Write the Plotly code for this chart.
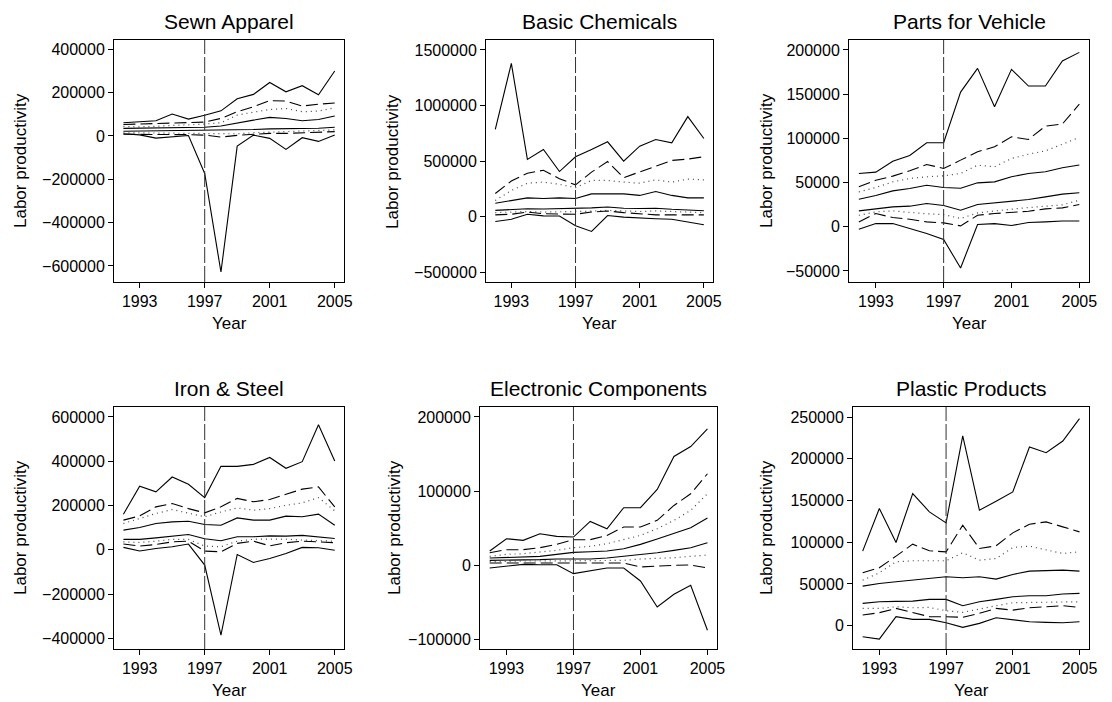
import plotly.graph_objects as go

years = list(range(1992, 2006))

titles = ["Sewn Apparel", "Basic Chemicals", "Parts for Vehicle",
          "Iron & Steel", "Electronic Components", "Plastic Products"]

# Eight series per industry, top to bottom
sewn_apparel = [
    [61000, 64000, 70000, 101000, 78000, 96000, 116000, 172000, 192000, 247000, 204000, 232000, 190000, 300000],
    [53000, 55000, 55000, 58000, 61000, 64000, 81000, 112000, 135000, 163000, 161000, 138000, 147000, 152000],
    [44000, 42000, 45000, 48000, 52000, 55000, 61000, 96000, 110000, 122000, 127000, 112000, 115000, 130000],
    [35000, 36000, 38000, 39000, 39000, 40000, 46000, 58000, 73000, 86000, 81000, 70000, 76000, 92000],
    [22000, 23000, 23000, 24000, 24000, 24000, 25000, 28000, 30000, 33000, 34000, 34000, 36000, 40000],
    [15000, 14000, 13000, 13000, 12000, 10000, 8000, 10000, 15000, 18000, 20000, 22000, 24000, 28000],
    [8000, 8000, 5000, 6000, 6000, 4000, -5000, 3000, 8000, 12000, 12000, 14000, 16000, 20000],
    [10000, 5000, -10000, -4000, 2000, -173000, -628000, -47000, 4000, -11000, -62000, -8000, -25000, 4000],
]

basic_chemicals = [
    [784000, 1380000, 514000, 604000, 405000, 538000, 604000, 673000, 499000, 634000, 694000, 664000, 900000, 703000],
    [207000, 320000, 390000, 417000, 340000, 285000, 400000, 495000, 350000, 400000, 450000, 505000, 517000, 538000],
    [144000, 235000, 300000, 310000, 290000, 260000, 325000, 325000, 310000, 300000, 330000, 310000, 337000, 330000],
    [120000, 144000, 168000, 162000, 168000, 162000, 204000, 204000, 204000, 190000, 225000, 190000, 168000, 168000],
    [55000, 65000, 70000, 68000, 70000, 72000, 78000, 85000, 75000, 72000, 75000, 65000, 58000, 52000],
    [35000, 40000, 45000, 40000, 42000, 45000, 48000, 55000, 48000, 45000, 50000, 45000, 40000, 35000],
    [15000, 20000, 40000, 25000, 22000, 20000, 40000, 50000, 35000, 25000, 15000, 15000, 12000, 15000],
    [-45000, -25000, 20000, 6000, 5000, -84000, -135000, 9000, -6000, -10000, -20000, -25000, -50000, -75000],
]

parts_for_vehicle = [
    [60300, 61800, 74200, 80700, 95000, 95000, 152400, 179200, 135800, 178100, 159200, 159200, 187500, 197300],
    [45200, 52700, 57300, 63300, 70500, 66000, 75400, 84800, 90500, 101800, 98800, 113900, 116200, 138800],
    [39500, 44400, 50800, 54600, 56500, 57600, 60300, 69700, 67800, 77200, 82100, 85900, 93400, 101000],
    [31200, 35300, 40600, 43300, 47000, 44400, 43600, 49700, 50800, 56500, 60300, 62200, 66700, 69900],
    [18000, 20600, 22500, 23300, 26300, 24000, 18700, 25100, 27000, 28900, 30800, 33800, 36900, 38400],
    [13000, 16800, 18000, 16100, 14600, 13800, 9300, 15700, 18000, 19900, 21700, 23600, 24800, 30000],
    [5500, 15000, 10400, 8500, 5500, 4400, 1000, 13000, 15000, 16100, 17600, 20200, 21400, 25100],
    [-2800, 3600, 3600, -2000, -7700, -14500, -46600, 2500, 3600, 1400, 4800, 5500, 6600, 6600],
]

iron_steel = [
    [161000, 287000, 262000, 329000, 296000, 236000, 377000, 377000, 386000, 417000, 368000, 398000, 565000, 401000],
    [134000, 153000, 194000, 209000, 186000, 167000, 194000, 232000, 217000, 227000, 251000, 274000, 284000, 194000],
    [119000, 141000, 164000, 182000, 164000, 149000, 171000, 189000, 179000, 186000, 201000, 212000, 236000, 176000],
    [89000, 101000, 119000, 126000, 129000, 114000, 111000, 144000, 134000, 134000, 152000, 149000, 161000, 111000],
    [47000, 47000, 54000, 62000, 69000, 50000, 41000, 59000, 59000, 63000, 62000, 65000, 59000, 51000],
    [36000, 33000, 39000, 47000, 47000, 17000, 14000, 39000, 48000, 48000, 48000, 44000, 41000, 39000],
    [26000, 17000, 24000, 36000, 39000, -6000, -9000, 29000, 39000, 18000, 32000, 39000, 36000, 32000],
    [11000, -5000, 6000, 14000, 26000, -69000, -385000, -21000, -57000, -39000, -17000, 11000, 9000, -2000],
]

electronic_components = [
    [18900, 35500, 33300, 42300, 38700, 37800, 58900, 49000, 77400, 77400, 102100, 146700, 160100, 184000],
    [16600, 20700, 20700, 23400, 27900, 34200, 34200, 40000, 51300, 51300, 60300, 80500, 96300, 123300],
    [11700, 14400, 15300, 17500, 19800, 23400, 25200, 28800, 34200, 40000, 49000, 60300, 73800, 96300],
    [9400, 9900, 10800, 11700, 14400, 17100, 18000, 18900, 22000, 27900, 35100, 42300, 50400, 63400],
    [6300, 6300, 6700, 7200, 8100, 8100, 8100, 9400, 11700, 14400, 16600, 19800, 23400, 30100],
    [4500, 5400, 5400, 5400, 5400, 5400, 5800, 6300, 6300, 8100, 8500, 9900, 11700, 13500],
    [2700, 2700, 3100, 3100, 3100, 2700, 2200, 2700, 2700, -2700, -1300, -400, 0, -4000],
    [-4000, -1300, 900, 400, 400, -11700, -8100, -4000, -4000, -21600, -56700, -39600, -27400, -88200],
]

plastic_products = [
    [89300, 140400, 99700, 158300, 136400, 123200, 227300, 138400, 149100, 160300, 214100, 207300, 221300, 248000],
    [63400, 69400, 83300, 97700, 89700, 88500, 120400, 92500, 95700, 111200, 121600, 124400, 118400, 112400],
    [54600, 63400, 76600, 77800, 77800, 77800, 87300, 78500, 80500, 93700, 95300, 90500, 86500, 88500],
    [47400, 50600, 52600, 54600, 57000, 58600, 57400, 58600, 55800, 61400, 65400, 65800, 66600, 65400],
    [26700, 28700, 29100, 29500, 31500, 31500, 23900, 28700, 31500, 34700, 35900, 35900, 37900, 38700],
    [20700, 20700, 22700, 21500, 21900, 17900, 16000, 19500, 23900, 27500, 27900, 27500, 28700, 28700],
    [12800, 15600, 20700, 15600, 10800, 10800, 10000, 14800, 20700, 18700, 21500, 22700, 23900, 21900],
    [-13200, -16000, 10800, 7600, 7600, 3600, -2000, 2800, 9600, 6800, 4800, 4000, 3600, 4800],
]

panels = [sewn_apparel, basic_chemicals, parts_for_vehicle,
          iron_steel, electronic_components, plastic_products]

y_ticks = [
    [-600000, -400000, -200000, 0, 200000, 400000],
    [-500000, 0, 500000, 1000000, 1500000],
    [-50000, 0, 50000, 100000, 150000, 200000],
    [-400000, -200000, 0, 200000, 400000, 600000],
    [-100000, 0, 100000, 200000],
    [0, 50000, 100000, 150000, 200000, 250000],
]
x_ticks = [1993, 1997, 2001, 2005]
break_year = 1997

# ---- presentation ----
W, H = 1112, 702
FONT = "Liberation Sans, Arial, Helvetica, sans-serif"

# plot boxes in pixels: (left, right, top, bottom)
boxes = [
    (114, 344, 40, 282), (486, 713, 40, 282), (849, 1089, 40, 282),
    (114, 344, 407, 649), (480, 717, 407, 649), (853, 1089, 407, 649),
]
y_ranges = [
    (-674000, 443000), (-590000, 1590000), (-62500, 211300),
    (-448000, 645000), (-113500, 213500), (-27900, 262000),
]
ytitle_x = [20, 392, 766, 20, 394, 766]
x_range = (1991.42, 2005.57)

line_styles = [
    dict(color="black", width=1.1, dash="solid"),
    dict(color="black", width=1.1, dash="12px,5px"),
    dict(color="#444", width=1.2, dash="1px,4px"),
    dict(color="black", width=1.1, dash="solid"),
    dict(color="black", width=1.1, dash="solid"),
    dict(color="#444", width=1.2, dash="1px,4px"),
    dict(color="black", width=1.1, dash="12px,5px"),
    dict(color="black", width=1.1, dash="solid"),
]

fig = go.Figure()
annotations = []
shapes = []
layout = {}

for i, (series, box) in enumerate(zip(panels, boxes)):
    n = i + 1
    xa = "x" if n == 1 else f"x{n}"
    ya = "y" if n == 1 else f"y{n}"
    l, r, t, b = box
    for vals, style in zip(series, line_styles):
        fig.add_trace(go.Scatter(x=years, y=vals, mode="lines", line=style,
                                 xaxis=xa, yaxis=ya, showlegend=False,
                                 hoverinfo="skip"))
    axis_common = dict(showline=True, linecolor="black", linewidth=1, mirror=True,
                       showgrid=False, zeroline=False, ticks="outside", ticklen=5,
                       tickcolor="black", tickfont=dict(family=FONT, size=16, color="black"),
                       automargin=False)
    layout["xaxis" if n == 1 else f"xaxis{n}"] = dict(
        axis_common, domain=[l / W, r / W], range=list(x_range),
        tickvals=x_ticks, tickformat="d", anchor=ya)
    layout["yaxis" if n == 1 else f"yaxis{n}"] = dict(
        axis_common, domain=[1 - b / H, 1 - t / H], range=list(y_ranges[i]),
        tickvals=y_ticks[i], tickformat="d", anchor=xa)

    cx = (l + r) / 2 / W
    # panel title
    annotations.append(dict(text=titles[i], x=cx, y=1 - (t - 19) / H,
                            xref="paper", yref="paper", showarrow=False,
                            xanchor="center", yanchor="middle",
                            font=dict(family=FONT, size=21, color="black")))
    # x-axis title
    annotations.append(dict(text="Year", x=cx, y=1 - (b + 41) / H,
                            xref="paper", yref="paper", showarrow=False,
                            xanchor="center", yanchor="middle",
                            font=dict(family=FONT, size=17, color="black")))
    # y-axis title
    annotations.append(dict(text="Labor productivity", x=ytitle_x[i] / W,
                            y=1 - (t + b) / 2 / H, xref="paper", yref="paper",
                            showarrow=False, textangle=-90,
                            xanchor="center", yanchor="middle",
                            font=dict(family=FONT, size=17, color="black")))
    # reference line at the break year
    shapes.append(dict(type="line", xref=xa, yref=f"{ya} domain",
                       x0=break_year, x1=break_year, y0=0, y1=1,
                       line=dict(color="#333", width=1, dash="16px,3px")))

fig.update_layout(
    width=W, height=H,
    margin=dict(l=0, r=0, t=0, b=0),
    paper_bgcolor="white", plot_bgcolor="white",
    annotations=annotations, shapes=shapes,
    font=dict(family=FONT, color="black"),
    **layout,
)

fig.write_html("out.html")
